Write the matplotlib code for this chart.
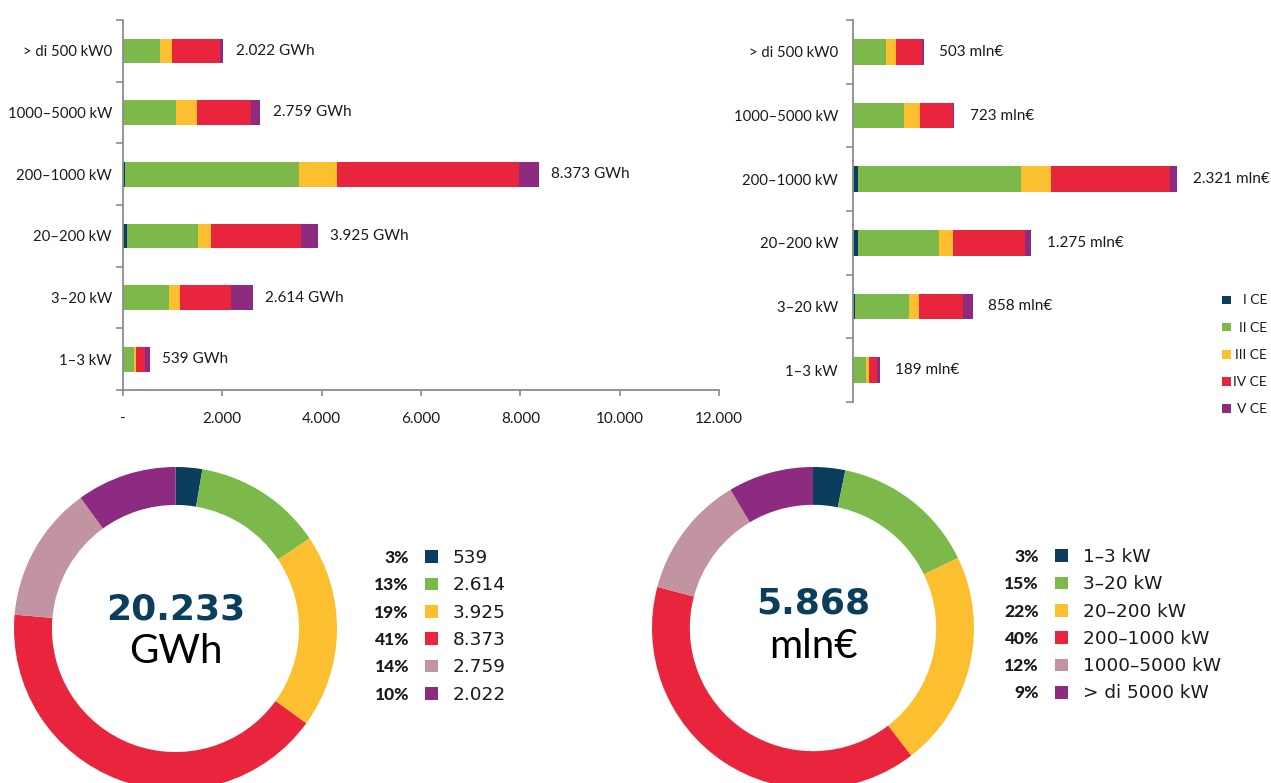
import matplotlib.pyplot as plt
from matplotlib.patches import Rectangle

W, H = 1271, 783

# classi di potenza, dal basso verso l'alto
classi = ["1–3 kW", "3–20 kW", "20–200 kW", "200–1000 kW", "1000–5000 kW", "> di 500 kW0"]
classi_donut = ["1–3 kW", "3–20 kW", "20–200 kW", "200–1000 kW", "1000–5000 kW", "> di 5000 kW"]
ce_labels = ["I CE", "II CE", "III CE", "IV CE", "V CE"]

# energia per classe CE (GWh)
gwh_I = [3, 10, 74, 40, 0, 0]
gwh_II = [222, 920, 1432, 3496, 1063, 750]
gwh_III = [35, 210, 275, 780, 430, 237]
gwh_IV = [182, 1030, 1794, 3655, 1090, 975]
gwh_V = [97, 444, 350, 402, 176, 60]

# spesa per classe CE (mln€)
eur_I = [1, 9, 31, 31, 0, 0]
eur_II = [91, 390, 586, 1169, 364, 237]
eur_III = [21, 72, 95, 213, 117, 71]
eur_IV = [55, 315, 515, 855, 230, 185]
eur_V = [21, 72, 48, 53, 12, 10]

totale_gwh = 20233
totale_eur = 5868

ce_colors = ["#0b3d5c", "#7db84b", "#fbbf30", "#e8253c", "#8d2b80"]
donut_colors = ["#0b3d5c", "#7db84b", "#fbbf30", "#e8253c", "#c293a0", "#8d2b80"]
grey = "#8c8c8c"
ink = "#1a1a1a"


def num(v):
    return f"{v:,}".replace(",", ".")


def fx(x):
    return x / W


def fy(y):
    return 1 - y / H


def stacked(ax, series, unit, pad, label_pad):
    left = [0] * len(classi)
    for vals, col in zip(series, ce_colors):
        ax.barh(range(len(classi)), vals, left=left, height=0.4, color=col, linewidth=0)
        left = [a + b for a, b in zip(left, vals)]
    for i, tot in enumerate(left):
        ax.annotate(f"{num(tot)} {unit}", (tot, i), xytext=(pad, 0), textcoords="offset points",
                    va="center", ha="left", fontsize=11, family="Lato", color=ink)
    ax.set_ylim(-0.5, len(classi) - 0.5)
    ax.set_yticks(range(len(classi)))
    ax.set_yticklabels(classi, fontsize=10.7, family="Lato", color=ink)
    ax.set_yticks([i - 0.5 for i in range(len(classi) + 1)], minor=True)
    ax.tick_params(axis="y", which="major", length=0, pad=label_pad)
    ax.tick_params(axis="y", which="minor", length=5, width=1.2, color=grey, direction="out")
    for s in ["top", "right"]:
        ax.spines[s].set_visible(False)
    ax.spines["left"].set_color(grey)
    ax.spines["left"].set_linewidth(1.3)
    return left


fig = plt.figure(figsize=(W / 100, H / 100), dpi=100)

# barre energia
ax1 = fig.add_axes([fx(123), fy(390), 596 / W, 370 / H])
tot_gwh = stacked(ax1, [gwh_I, gwh_II, gwh_III, gwh_IV, gwh_V], "GWh", 9, 8)
ax1.set_xlim(0, 12000)
xt = list(range(0, 12001, 2000))
ax1.set_xticks(xt)
ax1.set_xticklabels(["-"] + [num(v) for v in xt[1:]], fontsize=11, family="Lato", color=ink)
ax1.tick_params(axis="x", length=4.5, width=1.2, color=grey, pad=11)
ax1.spines["bottom"].set_color(grey)
ax1.spines["bottom"].set_linewidth(1.3)

# barre spesa
ax2 = fig.add_axes([fx(853.3), fy(402), 419 / W, 382 / H])
tot_eur = stacked(ax2, [eur_I, eur_II, eur_III, eur_IV, eur_V], "mln€", 11, 11)
ax2.set_xlim(0, 3000)
ax2.spines["bottom"].set_visible(False)
ax2.set_xticks([])

# legenda classi CE
for k, (lab, col) in enumerate(zip(ce_labels, ce_colors)):
    yc = 300 + k * 27.1
    fig.add_artist(Rectangle((fx(1222), fy(yc + 4.3)), 8.6 / W, 8.6 / H,
                             transform=fig.transFigure, color=col, linewidth=0))
    fig.text(fx(1267), fy(yc + 4.5), lab, ha="right", va="baseline",
             fontsize=10, family="Lato", color=ink)


def donut(cx, cy, r, values, total, unit, num_base, unit_base, leg_x, leg_labels, leg_y0):
    ax = fig.add_axes([fx(cx - r), fy(cy + r), 2 * r / W, 2 * r / H])
    ax.pie(values, colors=donut_colors, startangle=90, counterclock=False, radius=1,
           wedgeprops=dict(width=0.235, linewidth=0))
    ax.set_xlim(-1, 1)
    ax.set_ylim(-1, 1)
    ax.set_aspect("equal")
    ax.axis("off")
    ax.text(0, (cy - num_base) / r, num(total), ha="center", va="baseline",
            fontsize=26, weight="bold", family="DejaVu Sans", color="#0b3d5c")
    ax.text(0, (cy - unit_base) / r, unit, ha="center", va="baseline",
            fontsize=29, family="Lato", color="#000000")
    s = sum(values)
    for k, (lab, col, v) in enumerate(zip(leg_labels, donut_colors, values)):
        yc = leg_y0 + k * 27.3
        fig.text(fx(leg_x), fy(yc + 6.3), f"{round(100 * v / s)}%", ha="right", va="baseline",
                 fontsize=12.5, weight="black", family="Lato", color=ink)
        fig.add_artist(Rectangle((fx(leg_x + 16), fy(yc + 6.4)), 12.7 / W, 12.7 / H,
                                 transform=fig.transFigure, color=col, linewidth=0))
        fig.text(fx(leg_x + 44), fy(yc + 6.3), lab, ha="left", va="baseline",
                 fontsize=13.3, family="DejaVu Sans", color=ink)


donut(175.5, 628.5, 161.5, tot_gwh, totale_gwh, "GWh", 620, 663,
      409, [num(v) for v in tot_gwh], 556.7)
donut(813, 628, 161, tot_eur, totale_eur, "mln€", 613, 658,
      1039, classi_donut, 555.7)

fig.savefig("out.png", dpi=100)
